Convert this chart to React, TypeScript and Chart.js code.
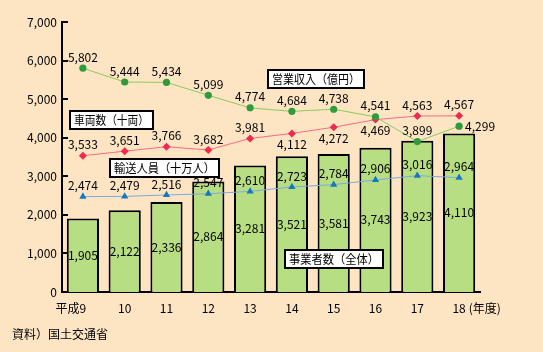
import React, { useEffect, useRef } from "react";
import { Chart, registerables } from "chart.js";

Chart.register(...registerables);

// ---- data ----
const categories = ["9", "10", "11", "12", "13", "14", "15", "16", "17", "18"];
const categoryPrefix = "平成";
const categorySuffix = "(年度)";
const operators = [1905, 2122, 2336, 2864, 3281, 3521, 3581, 3743, 3923, 4110];
const revenue = [5802, 5444, 5434, 5099, 4774, 4684, 4738, 4541, 3899, 4299];
const vehicles = [3533, 3651, 3766, 3682, 3981, 4112, 4272, 4469, 4563, 4567];
const passengers = [2474, 2479, 2516, 2547, 2610, 2723, 2784, 2906, 3016, 2964];
const yMin = 0;
const yMax = 7000;
const yStep = 1000;
const operatorsName = "事業者数（全体）";
const revenueName = "営業収入（億円）";
const vehiclesName = "車両数（十両）";
const passengersName = "輸送人員（十万人）";
const sourceNote = "資料）国土交通省";

// label placement (style, not data)
const revenueLabelPos = ["top", "top", "top", "top", "top", "top", "top", "top", "top", "right"];
const vehiclesLabelPos = ["top", "top", "top", "top", "top", "bottom", "bottom", "bottom", "top", "top"];
const passengersLabelPos = ["top", "top", "top", "top", "top", "top", "top", "top", "top", "top"];

// annotation boxes anchored in data coordinates [category index, value], box size in px
const boxAnchors = [
  { text: revenueName, at: [5.58, 5510], w: 96 },
  { text: vehiclesName, at: [0.68, 4460], w: 83 },
  { text: passengersName, at: [1.95, 3215], w: 109 },
  { text: operatorsName, at: [6.0, 843], w: 98 },
];

const FONT = '"Noto Sans CJK JP", "Noto Sans", sans-serif';
const BG = "#FDE5C4";

const fmt = (v: number) => v.toLocaleString("en-US");

const overlayPlugin = {
  id: "overlay",
  beforeDraw(chart: any) {
    const ctx = chart.ctx;
    ctx.save();
    ctx.fillStyle = BG;
    ctx.fillRect(0, 0, chart.width, chart.height);
    ctx.restore();
  },
  afterDraw(chart: any) {
    const ctx = chart.ctx;
    const xs = chart.scales.x;
    const ys = chart.scales.y;
    const area = chart.chartArea;
    ctx.save();
    // inside y ticks
    ctx.strokeStyle = "#000";
    ctx.lineWidth = 2;
    ys.ticks.forEach((t: any) => {
      const y = Math.round(ys.getPixelForValue(t.value));
      ctx.beginPath();
      ctx.moveTo(area.left, y);
      ctx.lineTo(area.left + 6, y);
      ctx.stroke();
    });

    ctx.font = `12px ${FONT}`;
    ctx.fillStyle = "#000";
    ctx.textBaseline = "middle";

    // bar labels
    const barMeta = chart.getDatasetMeta(0);
    barMeta.data.forEach((el: any, i: number) => {
      ctx.textAlign = "center";
      ctx.fillText(fmt(operators[i]), el.x, (el.y + el.base) / 2);
    });

    const lineSets: [number, number[], string[]][] = [
      [1, revenue, revenueLabelPos],
      [2, vehicles, vehiclesLabelPos],
      [3, passengers, passengersLabelPos],
    ];
    lineSets.forEach(([idx, values, pos]) => {
      const meta = chart.getDatasetMeta(idx);
      meta.data.forEach((el: any, i: number) => {
        const p = pos[i];
        const txt = fmt(values[i]);
        if (p === "right") {
          ctx.textAlign = "left";
          ctx.fillText(txt, el.x + 6, el.y);
        } else if (p === "bottom") {
          ctx.textAlign = "center";
          ctx.fillText(txt, el.x, el.y + 11);
        } else {
          ctx.textAlign = "center";
          ctx.fillText(txt, el.x, el.y - 11);
        }
      });
    });

    // x category labels with era prefix and unit suffix
    const xLabelY = area.bottom + 16;
    categories.forEach((c, i) => {
      ctx.textAlign = "center";
      ctx.fillText(c, xs.getPixelForTick(i), xLabelY);
    });
    const firstX = xs.getPixelForTick(0);
    const lastX = xs.getPixelForTick(categories.length - 1);
    const w0 = ctx.measureText(categories[0]).width;
    const wl = ctx.measureText(categories[categories.length - 1]).width;
    ctx.textAlign = "right";
    ctx.fillText(categoryPrefix, firstX - w0 / 2, xLabelY);
    ctx.textAlign = "left";
    ctx.fillText(categorySuffix, lastX + wl / 2 + 3, xLabelY);

    // annotation boxes
    boxAnchors.forEach((b) => {
      const cx = xs.getPixelForValue(b.at[0]);
      const cy = ys.getPixelForValue(b.at[1]);
      const w = b.w;
      const h = 18;
      const x0 = Math.round(cx - w / 2);
      const y0 = Math.round(cy - h / 2);
      ctx.fillStyle = "#fff";
      ctx.fillRect(x0, y0, w, h);
      ctx.strokeStyle = "#000";
      ctx.lineWidth = 2;
      ctx.strokeRect(x0, y0, w, h);
      ctx.fillStyle = "#000";
      ctx.textAlign = "center";
      ctx.fillText(b.text, x0 + w / 2, y0 + h / 2 + 0.5, w - 8);
    });

    // source note
    ctx.textAlign = "left";
    ctx.fillText(sourceNote, 12, 334);
    ctx.restore();
  },
};

export default function App() {
  const ref = useRef<HTMLCanvasElement | null>(null);
  useEffect(() => {
    if (!ref.current) return;
    const chart = new Chart(ref.current, {
      type: "bar",
      data: {
        labels: categories,
        datasets: [
          {
            type: "bar",
            label: operatorsName,
            data: operators,
            backgroundColor: "#B8DE84",
            borderColor: "#000",
            borderWidth: 2,
            barPercentage: 0.77,
            categoryPercentage: 1,
            order: 10,
          } as any,
          {
            type: "line",
            label: revenueName,
            data: revenue,
            borderColor: "#8BCB5A",
            borderWidth: 1,
            pointStyle: "circle",
            pointRadius: 3.6,
            pointBackgroundColor: "#2E9B3C",
            pointBorderColor: "#2E9B3C",
            pointBorderWidth: 0,
            order: 1,
          },
          {
            type: "line",
            label: vehiclesName,
            data: vehicles,
            borderColor: "#FF6A80",
            borderWidth: 1,
            pointStyle: "rectRot",
            pointRadius: 4,
            pointBackgroundColor: "#F2284C",
            pointBorderColor: "#F2284C",
            pointBorderWidth: 0,
            order: 2,
          },
          {
            type: "line",
            label: passengersName,
            data: passengers,
            borderColor: "#7FA9DE",
            borderWidth: 1,
            pointStyle: "triangle",
            pointRadius: 4.2,
            pointBackgroundColor: "#1478BE",
            pointBorderColor: "#1478BE",
            pointBorderWidth: 0,
            order: 3,
          },
        ],
      },
      options: {
        responsive: false,
        animation: false,
        layout: { padding: { top: 22, right: 63, left: 0, bottom: 0 } },
        plugins: { legend: { display: false }, tooltip: { enabled: false } },
        scales: {
          x: {
            grid: { display: false, drawTicks: false },
            border: { display: true, color: "#000", width: 2 },
            ticks: { display: false },
            afterFit: (s: any) => {
              s.height = 60;
            },
          },
          y: {
            min: yMin,
            max: yMax,
            grid: { display: false, drawTicks: false },
            border: { display: true, color: "#000", width: 2 },
            ticks: {
              stepSize: yStep,
              color: "#000",
              font: { family: FONT, size: 12 },
              padding: 5,
              callback: (v: any) => fmt(Number(v)),
            },
            afterFit: (s: any) => {
              s.width = 62;
            },
          },
        },
      },
      plugins: [overlayPlugin],
    });
    return () => chart.destroy();
  }, []);
  return (
    <div style={{ position: "fixed", left: 0, top: 0, width: 543, height: 352, background: BG }}>
      <canvas ref={ref} width={543} height={352} />
    </div>
  );
}
